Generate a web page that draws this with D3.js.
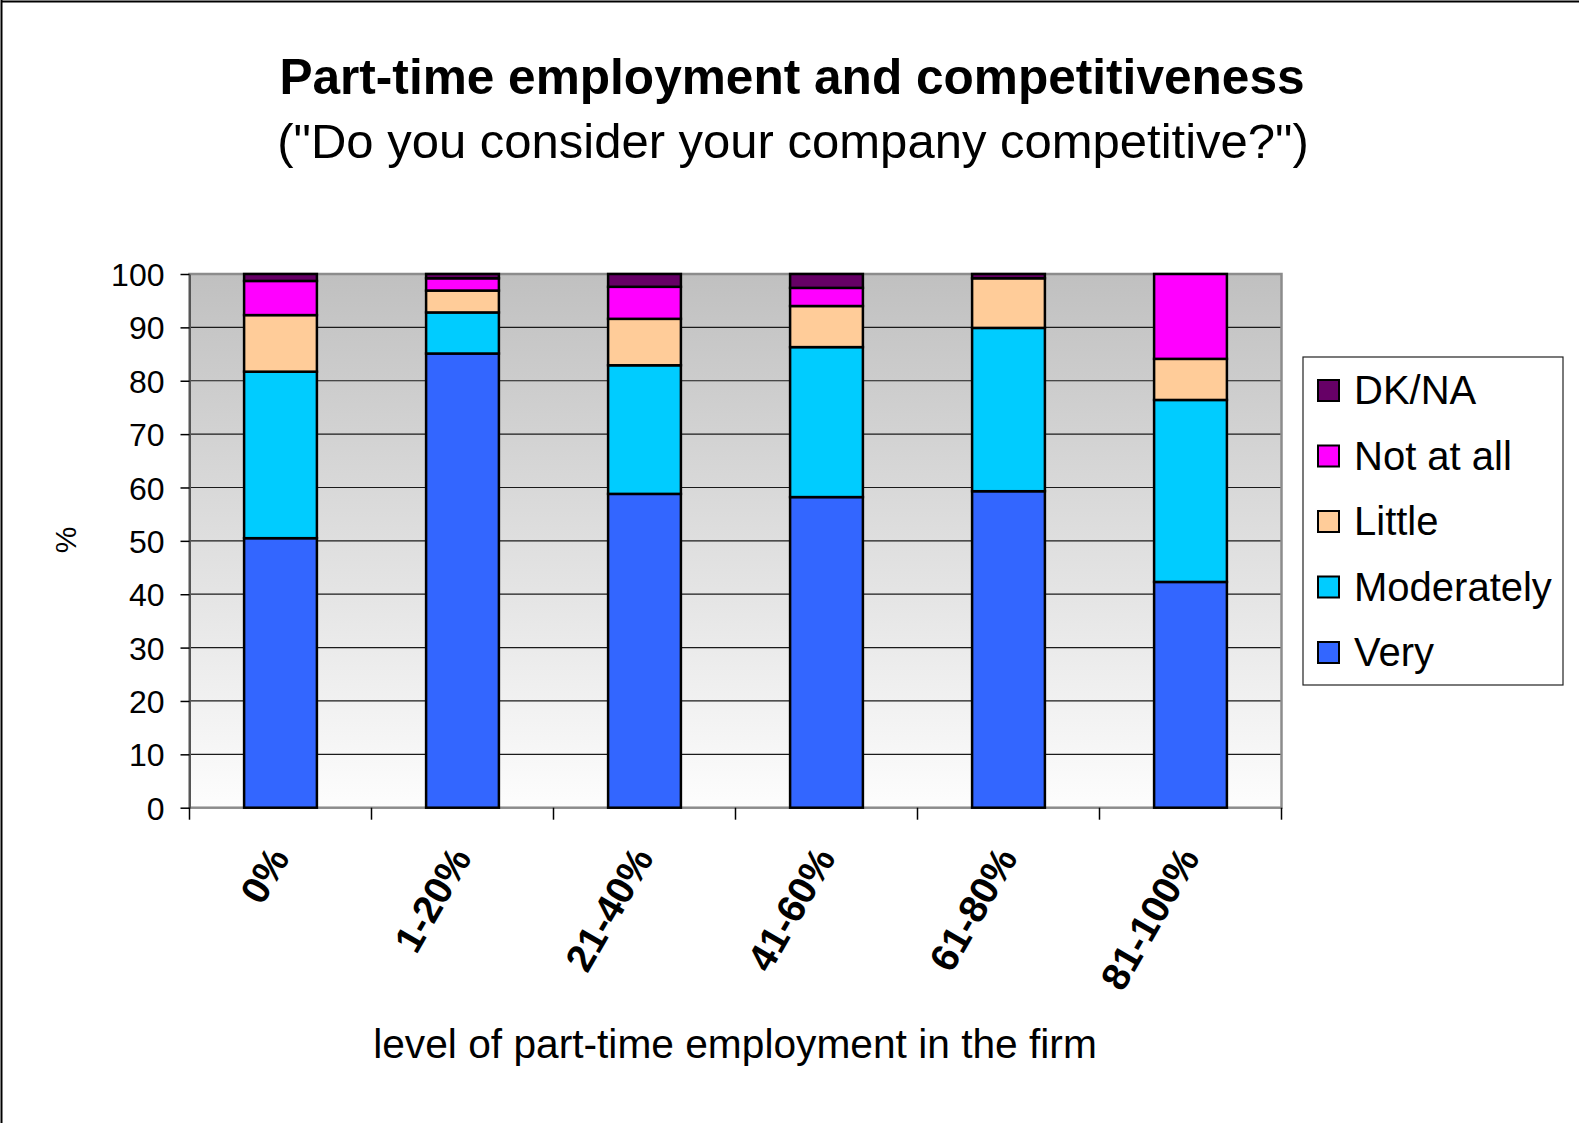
<!DOCTYPE html>
<html>
<head>
<meta charset="utf-8">
<script src="https://cdn.jsdelivr.net/npm/d3@7"></script>
<style>
  html, body { margin: 0; padding: 0; background: #fff; }
  svg text { font-family: "Liberation Sans", Arial, sans-serif; }
</style>
</head>
<body>
<svg id="chart" width="1579" height="1123"></svg>
<script>
// ---- data ----
const categories = ["0%", "1-20%", "21-40%", "41-60%", "61-80%", "81-100%"];
const seriesNames = ["Very", "Moderately", "Little", "Not at all", "DK/NA"];
const veryValues       = [50.5, 85.1, 58.8, 58.2, 59.3, 42.3];
const moderatelyValues = [31.2,  7.7, 24.1, 28.1, 30.6, 34.1];
const littleValues     = [10.6,  4.1,  8.7,  7.7,  9.3,  7.7];
const notAtAllValues   = [ 6.4,  2.3,  6.0,  3.4,  0.0, 15.9];
const dkNaValues       = [ 1.3,  0.8,  2.4,  2.6,  0.8,  0.0];
const yTicks = [0, 10, 20, 30, 40, 50, 60, 70, 80, 90, 100];
const seriesColors = ["#3366FF", "#00CCFF", "#FFCC99", "#FF00FF", "#660066"];

const rows = categories.map((c, i) => ({
  cat: c,
  "Very": veryValues[i],
  "Moderately": moderatelyValues[i],
  "Little": littleValues[i],
  "Not at all": notAtAllValues[i],
  "DK/NA": dkNaValues[i]
}));

// ---- layout ----
const svg = d3.select("#chart");
const plot = { left: 189.5, top: 274, right: 1281.5, bottom: 807.7 };

const x = d3.scaleBand().domain(categories).range([plot.left, plot.right]).paddingInner(0.6).paddingOuter(0.3);
const xb = d3.scaleBand().domain(categories).range([plot.left, plot.right]).padding(0);
const y = d3.scaleLinear().domain([0, 100]).range([plot.bottom, plot.top]);
const color = d3.scaleOrdinal().domain(seriesNames).range(seriesColors);

// outer frame (top + left visible)
svg.append("line").attr("x1", 1).attr("x2", 1579).attr("y1", 1.5).attr("y2", 1.5).attr("stroke", "#000").attr("stroke-width", 2);
svg.append("line").attr("x1", 1.5).attr("x2", 1.5).attr("y1", 0).attr("y2", 1123).attr("stroke", "#000").attr("stroke-width", 2);

// gradient
const defs = svg.append("defs");
const grad = defs.append("linearGradient").attr("id", "bg").attr("x1", 0).attr("x2", 0).attr("y1", 0).attr("y2", 1);
grad.append("stop").attr("offset", "0%").attr("stop-color", "#c0c0c0");
grad.append("stop").attr("offset", "100%").attr("stop-color", "#fdfdfd");

svg.append("rect")
  .attr("x", plot.left).attr("y", plot.top)
  .attr("width", plot.right - plot.left).attr("height", plot.bottom - plot.top)
  .attr("fill", "url(#bg)");

// gridlines
svg.append("g").selectAll("line").data(yTicks.filter(t => t > 0 && t < 100)).join("line")
  .attr("x1", plot.left).attr("x2", plot.right)
  .attr("y1", d => y(d)).attr("y2", d => y(d))
  .attr("stroke", "#1a1a1a").attr("stroke-width", 1.2);

// plot border
svg.append("rect")
  .attr("x", plot.left).attr("y", plot.top)
  .attr("width", plot.right - plot.left).attr("height", plot.bottom - plot.top)
  .attr("fill", "none").attr("stroke", "#8c8c8c").attr("stroke-width", 2.5);

// bars
const stacked = d3.stack().keys(seriesNames)(rows);
svg.append("g").selectAll("g").data(stacked).join("g")
  .attr("fill", d => color(d.key))
  .selectAll("rect").data(d => d.filter(p => p[1] - p[0] > 0)).join("rect")
  .attr("x", d => x(d.data.cat))
  .attr("width", x.bandwidth())
  .attr("y", d => y(d[1]))
  .attr("height", d => y(d[0]) - y(d[1]))
  .attr("stroke", "#000").attr("stroke-width", 2.5);

// y axis
const yAxis = d3.axisLeft(y).tickValues(yTicks).tickSize(9).tickPadding(16).tickSizeOuter(0);
const gy = svg.append("g").attr("transform", `translate(${plot.left},0)`).call(yAxis);
gy.select(".domain").attr("stroke", "#555").attr("stroke-width", 2);
gy.selectAll(".tick line").attr("stroke", "#000").attr("stroke-width", 1.5);
gy.selectAll(".tick text").attr("font-size", 32).attr("fill", "#000")
  .attr("font-family", "Liberation Sans, Arial, sans-serif").attr("dy", "0.36em");

// x axis ticks (at band boundaries)
const boundaries = categories.map(c => xb(c)).concat([plot.right]);
svg.append("g").selectAll("line").data(boundaries).join("line")
  .attr("x1", d => d).attr("x2", d => d)
  .attr("y1", plot.bottom).attr("y2", plot.bottom + 12)
  .attr("stroke", "#000").attr("stroke-width", 1.5);

// x labels
svg.append("g").selectAll("text").data(categories).join("text")
  .attr("transform", d => `translate(${xb(d) + xb.bandwidth() / 2 + 10},${plot.bottom + 50}) rotate(-60)`)
  .attr("text-anchor", "end")
  .attr("font-size", 39).attr("font-weight", "bold").attr("fill", "#000")
  .text(d => d);

// titles
svg.append("text").attr("x", 792).attr("y", 94).attr("text-anchor", "middle")
  .attr("font-size", 49.6).attr("font-weight", "bold").text("Part-time employment and competitiveness");
svg.append("text").attr("x", 793).attr("y", 158).attr("text-anchor", "middle")
  .attr("font-size", 49).text("(\"Do you consider your company competitive?\")");

// axis titles
svg.append("text").attr("x", 735).attr("y", 1058).attr("text-anchor", "middle")
  .attr("font-size", 40.7).text("level of part-time employment in the firm");
svg.append("text").attr("transform", "translate(76,540) rotate(-90)").attr("text-anchor", "middle")
  .attr("font-size", 30).text("%");

// legend
const legend = svg.append("g");
legend.append("rect").attr("x", 1303).attr("y", 357).attr("width", 260).attr("height", 328)
  .attr("fill", "#fff").attr("stroke", "#222").attr("stroke-width", 1.2);
const legendOrder = seriesNames.slice().reverse();
const li = legend.selectAll("g.item").data(legendOrder).join("g").attr("class", "item")
  .attr("transform", (d, i) => `translate(1318,${390 + i * 65.5})`);
li.append("rect").attr("x", 0).attr("y", -10).attr("width", 21).attr("height", 21)
  .attr("fill", d => color(d)).attr("stroke", "#000").attr("stroke-width", 2);
li.append("text").attr("x", 36).attr("y", 0).attr("dy", "0.36em")
  .attr("font-size", 40).attr("fill", "#000").text(d => d);
</script>
</body>
</html>
